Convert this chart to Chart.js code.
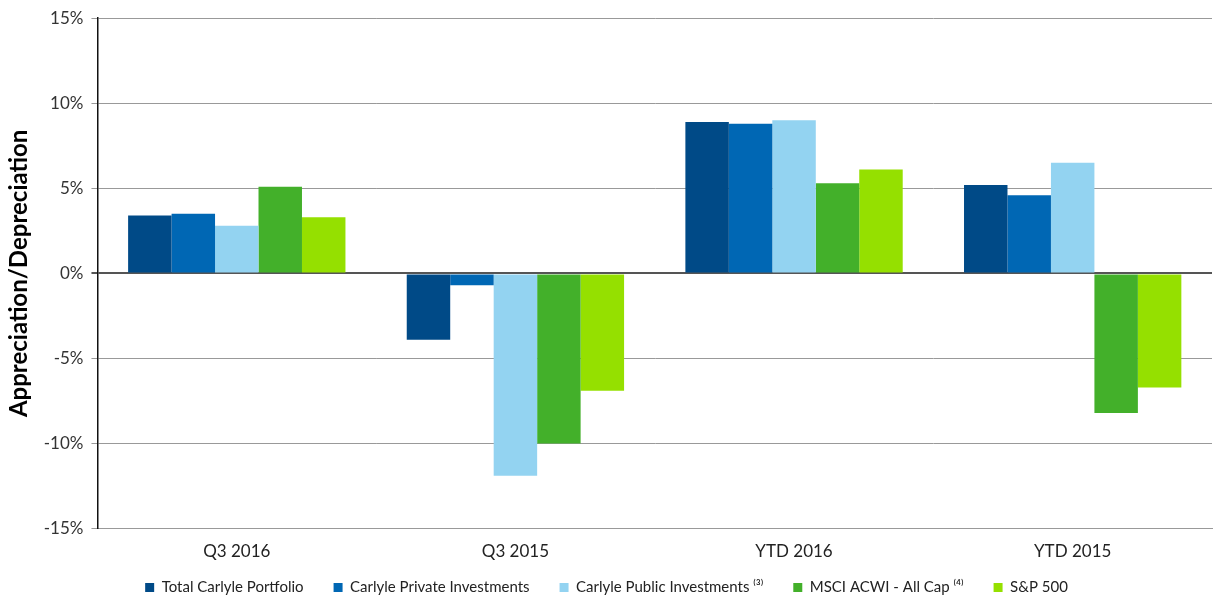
<!DOCTYPE html>
<html>
<head>
<meta charset="utf-8">
<script src="https://cdn.jsdelivr.net/npm/chart.js@4"></script>
<style>
  html, body { margin: 0; padding: 0; background: #fff; }
  #wrap { width: 1215px; height: 595px; position: relative; }
</style>
</head>
<body>
<div id="wrap"><canvas id="chart"></canvas></div>
<script>
// Data
const categories = ['Q3 2016', 'Q3 2015', 'YTD 2016', 'YTD 2015'];
const seriesNames = [
    'Total Carlyle Portfolio',
    'Carlyle Private Investments',
    'Carlyle Public Investments \u207D\u00B3\u207E',
    'MSCI ACWI - All Cap \u207D\u2074\u207E',
    'S&P 500'
];
const totalPortfolio = [3.4, -3.9, 8.9, 5.2];
const privateInv = [3.5, -0.7, 8.8, 4.6];
const publicInv = [2.8, -11.9, 9.0, 6.5];
const msciAcwi = [5.1, -10.0, 5.3, -8.2];
const sp500 = [3.3, -6.9, 6.1, -6.7];
const seriesColors = ['#004a87', '#0067b4', '#93d3f1', '#43b02a', '#95e000'];
const yTicks = [-15, -10, -5, 0, 5, 10, 15];

const allSeries = [totalPortfolio, privateInv, publicInv, msciAcwi, sp500];

// Legend keeps wide horizontal gaps but takes less height above its row
const LEGEND_SHRINK = 17;
const legendTighten = {
    id: 'legendTighten',
    beforeInit: function(chart) {
        const origFit = chart.legend.fit;
        chart.legend.fit = function() {
            origFit.call(this);
            this.height -= LEGEND_SHRINK;
        };
    },
    afterLayout: function(chart) {
        chart.legend.top -= LEGEND_SHRINK;
    }
};

const chart = new Chart(document.getElementById('chart').getContext('2d'), {
    type: 'bar',
    data: {
        labels: categories,
        datasets: allSeries.map((vals, i) => ({
            label: seriesNames[i],
            data: vals,
            backgroundColor: seriesColors[i],
            borderWidth: 0,
            categoryPercentage: 0.78,
            barPercentage: 1.0
        }))
    },
    options: {
        responsive: true,
        maintainAspectRatio: false,
        animation: false,
        layout: { padding: { top: 3, right: 3, left: 1, bottom: -10 } },
        plugins: {
            tooltip: { enabled: false },
            legend: {
                position: 'bottom',
                labels: {
                    font: { family: 'Lato', size: 15 },
                    color: '#222',
                    boxWidth: 9,
                    boxHeight: 9,
                    padding: 30
                }
            }
        },
        scales: {
            x: {
                grid: { display: false },
                border: { display: true, color: '#999' },
                ticks: {
                    font: { family: 'Lato', size: 17 },
                    color: '#222',
                    padding: 5
                }
            },
            y: {
                min: -15,
                max: 15,
                afterBuildTicks: axis => {
                    axis.ticks = yTicks.map(v => ({ value: v }));
                },
                ticks: {
                    callback: v => v + '%',
                    font: { family: 'Lato', size: 17 },
                    color: '#333',
                    padding: 8
                },
                grid: {
                    color: ctx => ctx.tick && ctx.tick.value === 0 ? '#555' : '#999',
                    lineWidth: ctx => ctx.tick && ctx.tick.value === 0 ? 2 : 1,
                    tickLength: 6
                },
                border: { display: true, color: '#111', width: 1.5 },
                title: {
                    display: true,
                    text: 'Appreciation/Depreciation',
                    font: { family: 'Lato', size: 24, weight: 'bold' },
                    color: '#000',
                    padding: { bottom: 2 }
                }
            }
        }
    },
    plugins: [legendTighten]
});
</script>
</body>
</html>
